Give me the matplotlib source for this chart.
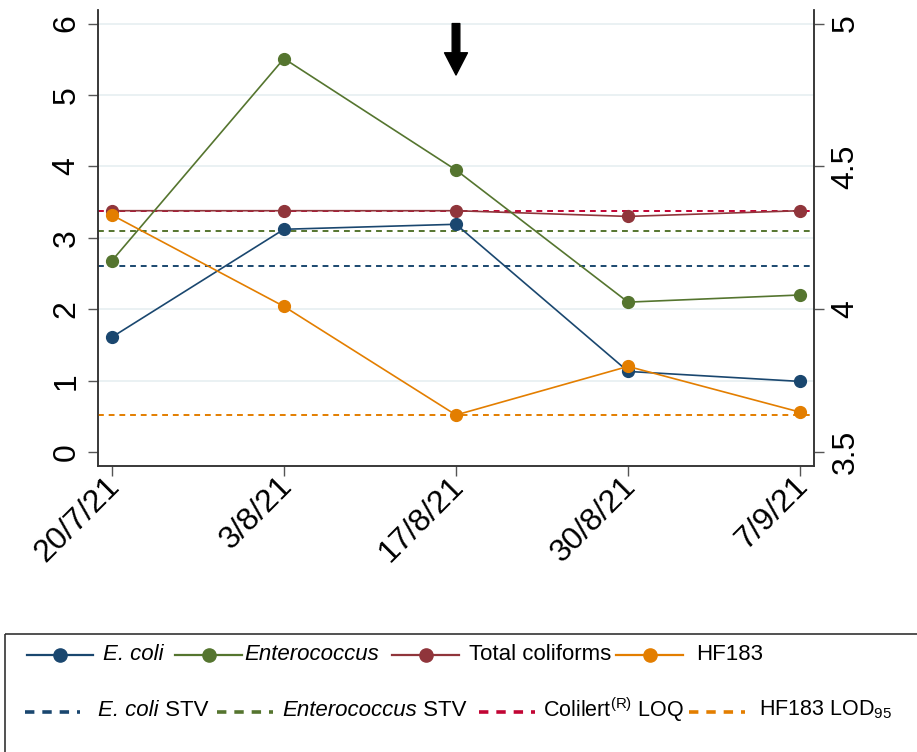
import matplotlib
matplotlib.use("Agg")
import matplotlib.pyplot as plt
import matplotlib.transforms as mtransforms
from matplotlib.lines import Line2D
from matplotlib.patches import Rectangle

# data (log10 values)
dates = ["20/7/21", "3/8/21", "17/8/21", "30/8/21", "7/9/21"]
ecoli = [1.61, 3.12, 3.19, 1.13, 0.99]
entero = [2.68, 5.51, 3.95, 2.10, 2.20]
coliforms = [3.38, 3.38, 3.38, 3.30, 3.38]
hf183 = [4.33, 4.01, 3.63, 3.80, 3.64]   # right axis

ecoli_stv = 2.61
entero_stv = 3.10
colilert_loq = 3.38
hf183_lod = 3.63   # right axis

left_ticks = [0, 1, 2, 3, 4, 5, 6]
right_ticks = [3.5, 4, 4.5, 5]
arrow_at = 2   # index of 17/8/21

navy = "#1a476f"
green = "#55752f"
maroon = "#90353b"
orange = "#e37e00"
cranberry = "#c10534"

plt.rcParams["font.family"] = "Liberation Sans"
plt.rcParams["mathtext.fontset"] = "custom"
plt.rcParams["mathtext.rm"] = "Liberation Sans"
plt.rcParams["mathtext.it"] = "Liberation Sans:italic"

W, H = 917, 752
fig = plt.figure(figsize=(W / 100, H / 100), dpi=100)
ax = fig.add_axes([98 / W, 1 - 465.7 / H, (814 - 98) / W, (465.7 - 10) / H])
ax2 = ax.twinx()

x = list(range(len(dates)))
lo, hi = -0.19, 6.19
ax.set_ylim(lo, hi)
ax2.set_ylim(3.5 + lo * 0.25, 3.5 + hi * 0.25)
ax.set_xlim(-0.081, len(dates) - 1 + 0.081)

# grid
for t in left_ticks[1:]:
    ax.axhline(t, color="#e8f0f2", lw=1.3, zorder=0)

# reference lines
dash = dict(lw=1.4, dashes=(3, 2.5))
ax.axhline(ecoli_stv, color=navy, zorder=1, **dash)
ax.axhline(entero_stv, color=green, zorder=1, **dash)
ax.axhline(colilert_loq, color=cranberry, zorder=1, **dash)
ax2.axhline(hf183_lod, color=orange, zorder=1, **dash)

mk = dict(marker="o", markersize=8.5, lw=1.2, zorder=3)
ax.plot(x, coliforms, color=maroon, **mk)
ax.plot(x, ecoli, color=navy, **mk)
ax.plot(x, entero, color=green, **mk)
ax2.plot(x, hf183, color=orange, **mk)

# arrow above 17/8/21
ax.annotate("", xy=(arrow_at, 5.28), xytext=(arrow_at, 6.0),
            arrowprops=dict(facecolor="black", edgecolor="black", width=5.5,
                            headwidth=16.5, headlength=16, shrink=0))

for a in (ax, ax2):
    a.patch.set_visible(False)
    a.spines["top"].set_visible(False)
    for s in ("left", "right", "bottom"):
        a.spines[s].set_color("#333333")
        a.spines[s].set_linewidth(1.1)
    a.tick_params(length=7, width=1, color="#555555", labelsize=23, pad=5)

ax.set_xticks(x)
ax.set_xticklabels(dates, rotation=45, ha="right", rotation_mode="anchor")
shift = mtransforms.ScaledTranslation(-7 / 100, 11 / 100, fig.dpi_scale_trans)
for lab in ax.get_xticklabels():
    lab.set_transform(lab.get_transform() + shift)
ax.set_yticks(left_ticks)
ax.set_yticklabels([str(t) for t in left_ticks], rotation=90, va="center")
ax2.set_yticks(right_ticks)
ax2.set_yticklabels(["3.5", "4", "4.5", "5"], rotation=90, va="center")

# legend drawn in pixel coordinates
lg = fig.add_axes([0, 0, 1, 1])
lg.set_xlim(0, W)
lg.set_ylim(H, 0)
lg.axis("off")
lg.add_patch(Rectangle((4.5, 634), W + 20, 200, fill=False, ec="#333333", lw=1.2))
renderer = fig.canvas.get_renderer()

row1 = [(27, 93, navy, "E. coli", "", 103),
        (175, 242, green, "Enterococcus", "", 244),
        (392, 459, maroon, "", "Total coliforms", 469),
        (616, 683, orange, "", "HF183", 696)]
for x0, x1, c, it, t, tx in row1:
    lg.add_line(Line2D([x0, x1], [655, 655], color=c, lw=1.6))
    lg.add_line(Line2D([(x0 + x1) / 2], [655], color=c, marker="o", markersize=9.5, lw=0))
    if it:
        lg.text(tx, 655, it, fontsize=16, va="center", style="italic")
    else:
        lg.text(tx, 655, t, fontsize=16, va="center")

row2 = [(25, 80, navy, "E. coli", " STV", 98),
        (217, 273, green, "Enterococcus", " STV", 282),
        (479, 535, cranberry, "", r"Colilert$^{\rm(R)}$ LOQ", 543),
        (689, 745, orange, "", r"HF183 LOD$_{95}$", 759)]
for x0, x1, c, it, t, tx in row2:
    lg.add_line(Line2D([x0, x1], [712, 712], color=c, lw=2.6, dashes=(2.6, 2.2)))
    if it:
        ti = lg.text(tx, 710, it, fontsize=16, va="center", style="italic")
        bb = ti.get_window_extent(renderer)
        lg.text(tx + bb.width, 710, t, fontsize=16, va="center")
    else:
        lg.text(tx, 710, t, fontsize=15.5, va="center")

fig.savefig("out.png", dpi=100)
